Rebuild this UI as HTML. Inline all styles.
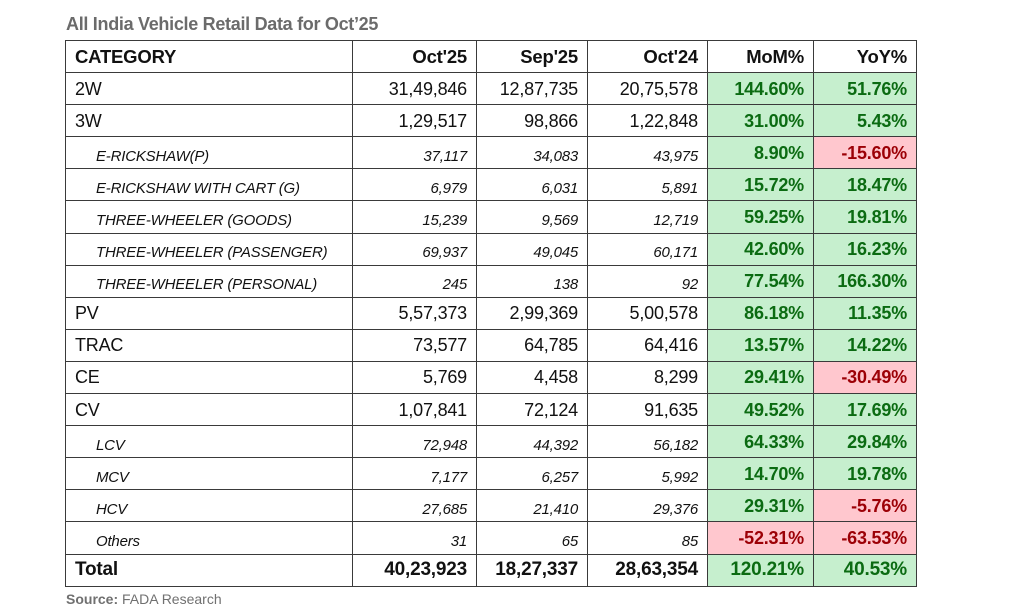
<!DOCTYPE html>
<html><head><meta charset="utf-8"><style>
body{margin:0;width:1024px;height:614px;background:#fff;font-family:"Liberation Sans",sans-serif;position:relative;overflow:hidden}
.t{position:absolute;left:66px;top:14px;font-size:18px;font-weight:bold;color:#6b6b6b;letter-spacing:-0.3px}
.s{position:absolute;left:66px;top:591px;font-size:14px;color:#707070}
table{position:absolute;left:65px;top:40px;border-collapse:collapse;table-layout:fixed}
tr{height:32.1px}
td{border:1.5px solid #3a3a3a;padding:0 9px;line-height:20px;font-size:18px;color:#111;text-align:right;white-space:nowrap;overflow:hidden;letter-spacing:-0.2px;vertical-align:middle}
td:first-child{text-align:left}
tr.h td{font-weight:bold;font-size:18.5px}
tr.i td{font-style:italic;font-size:15px;padding-top:8px;line-height:18px}
tr.i td:first-child{padding-left:30px}
tr.i td.g,tr.i td.r{font-style:normal;font-size:18px;padding-top:0;line-height:20px}
td.g{background:#c6efce;color:#0b6b12;font-weight:bold}
td.r{background:#ffc7ce;color:#9c0006;font-weight:bold}
tr.tot td{font-weight:bold;font-size:19px}
</style></head><body>
<div class="t">All India Vehicle Retail Data for Oct’25</div>
<table>
<colgroup><col style="width:287px"><col style="width:124px"><col style="width:111px"><col style="width:120px"><col style="width:106px"><col style="width:103px"></colgroup>
<tr class="h"><td>CATEGORY</td><td>Oct'25</td><td>Sep'25</td><td>Oct'24</td><td>MoM%</td><td>YoY%</td></tr>
<tr><td>2W</td><td>31,49,846</td><td>12,87,735</td><td>20,75,578</td><td class="g">144.60%</td><td class="g">51.76%</td></tr>
<tr><td>3W</td><td>1,29,517</td><td>98,866</td><td>1,22,848</td><td class="g">31.00%</td><td class="g">5.43%</td></tr>
<tr class="i"><td>E-RICKSHAW(P)</td><td>37,117</td><td>34,083</td><td>43,975</td><td class="g">8.90%</td><td class="r">-15.60%</td></tr>
<tr class="i"><td>E-RICKSHAW WITH CART (G)</td><td>6,979</td><td>6,031</td><td>5,891</td><td class="g">15.72%</td><td class="g">18.47%</td></tr>
<tr class="i"><td>THREE-WHEELER (GOODS)</td><td>15,239</td><td>9,569</td><td>12,719</td><td class="g">59.25%</td><td class="g">19.81%</td></tr>
<tr class="i"><td>THREE-WHEELER (PASSENGER)</td><td>69,937</td><td>49,045</td><td>60,171</td><td class="g">42.60%</td><td class="g">16.23%</td></tr>
<tr class="i"><td>THREE-WHEELER (PERSONAL)</td><td>245</td><td>138</td><td>92</td><td class="g">77.54%</td><td class="g">166.30%</td></tr>
<tr><td>PV</td><td>5,57,373</td><td>2,99,369</td><td>5,00,578</td><td class="g">86.18%</td><td class="g">11.35%</td></tr>
<tr><td>TRAC</td><td>73,577</td><td>64,785</td><td>64,416</td><td class="g">13.57%</td><td class="g">14.22%</td></tr>
<tr><td>CE</td><td>5,769</td><td>4,458</td><td>8,299</td><td class="g">29.41%</td><td class="r">-30.49%</td></tr>
<tr><td>CV</td><td>1,07,841</td><td>72,124</td><td>91,635</td><td class="g">49.52%</td><td class="g">17.69%</td></tr>
<tr class="i"><td>LCV</td><td>72,948</td><td>44,392</td><td>56,182</td><td class="g">64.33%</td><td class="g">29.84%</td></tr>
<tr class="i"><td>MCV</td><td>7,177</td><td>6,257</td><td>5,992</td><td class="g">14.70%</td><td class="g">19.78%</td></tr>
<tr class="i"><td>HCV</td><td>27,685</td><td>21,410</td><td>29,376</td><td class="g">29.31%</td><td class="r">-5.76%</td></tr>
<tr class="i"><td>Others</td><td>31</td><td>65</td><td>85</td><td class="r">-52.31%</td><td class="r">-63.53%</td></tr>
<tr class="tot"><td>Total</td><td>40,23,923</td><td>18,27,337</td><td>28,63,354</td><td class="g">120.21%</td><td class="g">40.53%</td></tr>
</table>
<div class="s"><b>Source:</b> FADA Research</div>
</body></html>
